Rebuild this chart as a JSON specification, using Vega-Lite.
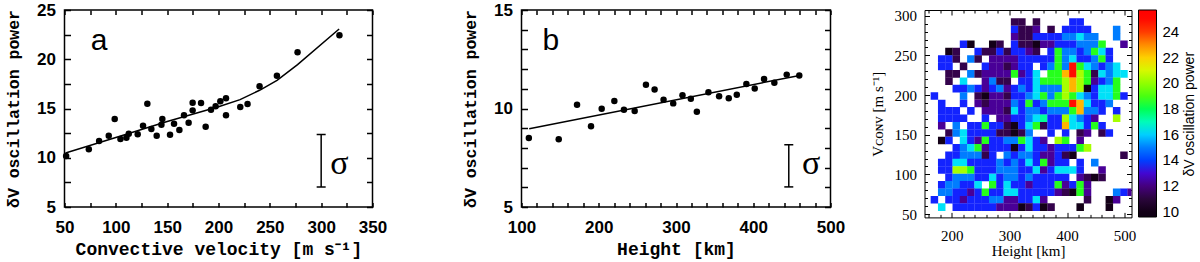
{
"$schema": "https://vega.github.io/schema/vega-lite/v6.json",
"background": "white",
"padding": {"left": 4.5, "top": -3, "right": 0, "bottom": 0},
"spacing": 10,
"resolve": {"scale": {"color": "independent"}, "legend": {"color": "independent"}},
"config": {
  "view": {"stroke": "black", "strokeWidth": 1.5},
  "axis": {"domain": false, "grid": false, "tickColor": "black", "labelColor": "black", "titleColor": "black", "labelOverlap": false, "labelFlush": false}
},
"datasets": {
"a_pts": [{"x":51.6,"y":10.18},{"x":73.7,"y":10.86},{"x":83.7,"y":11.7},{"x":93.1,"y":12.24},{"x":98.9,"y":13.93},{"x":104.5,"y":11.9},{"x":110.3,"y":12.04},{"x":112.6,"y":12.44},{"x":121.3,"y":12.38},{"x":126.5,"y":13.25},{"x":130.7,"y":15.49},{"x":134.6,"y":12.92},{"x":139.8,"y":12.24},{"x":144.4,"y":13.36},{"x":145.3,"y":13.93},{"x":152.8,"y":12.34},{"x":156.7,"y":13.46},{"x":161.9,"y":12.82},{"x":166.4,"y":14.31},{"x":170.9,"y":13.56},{"x":174.8,"y":14.81},{"x":174.8,"y":15.59},{"x":183,"y":15.56},{"x":187.5,"y":13.15},{"x":192.7,"y":14.88},{"x":197.2,"y":15.22},{"x":201.8,"y":15.73},{"x":207.3,"y":16.03},{"x":207.3,"y":14.31},{"x":221.2,"y":15.15},{"x":228.3,"y":15.46},{"x":240,"y":17.25},{"x":256.9,"y":18.33},{"x":277,"y":20.71},{"x":317.8,"y":22.43}],
"a_fit": [{"x":51,"y":10.48},{"x":100,"y":12.05},{"x":150,"y":13.68},{"x":200,"y":15.17},{"x":221,"y":15.9},{"x":240,"y":16.85},{"x":257,"y":17.86},{"x":277,"y":19.45},{"x":317.5,"y":23.07}],
"a_err": [{"x":300,"lo":7.03,"hi":12.35}],
"a_cap": [{"x":300,"y":7.03},{"x":300,"y":12.35}],
"a_lab": [{"x":83.6,"y":20.94,"t":"a"}],
"a_sig": [{"x":308.8,"y":8.35,"t":"σ"}],
"b_pts": [{"x":109.5,"y":8.5},{"x":148.2,"y":8.44},{"x":171.9,"y":10.19},{"x":190,"y":9.1},{"x":203.8,"y":9.99},{"x":220.2,"y":10.38},{"x":232.6,"y":9.94},{"x":246.5,"y":9.87},{"x":261.1,"y":11.21},{"x":272.3,"y":10.96},{"x":283.9,"y":10.45},{"x":296.4,"y":10.26},{"x":308.4,"y":10.67},{"x":319.2,"y":10.5},{"x":327,"y":9.84},{"x":342,"y":10.82},{"x":355.8,"y":10.62},{"x":368.3,"y":10.52},{"x":378.7,"y":10.7},{"x":391.1,"y":11.24},{"x":401.9,"y":11.02},{"x":414,"y":11.5},{"x":427.3,"y":11.31},{"x":443.3,"y":11.72},{"x":459.6,"y":11.68}],
"b_fit": [{"x":110,"y":8.97},{"x":460,"y":11.68}],
"b_err": [{"x":446,"lo":6.02,"hi":8.16}],
"b_cap": [{"x":446,"y":6.02},{"x":446,"y":8.16}],
"b_lab": [{"x":137.9,"y":12.98,"t":"b"}],
"b_sig": [{"x":463,"y":6.68,"t":"σ"}],
"heat": [
{"h":309,"v":292.1,"p":11.3},{"h":321.6,"v":292.1,"p":11.3},{"h":346.9,"v":292.1,"p":11.3},{"h":410.2,"v":292.1,"p":13.6},{"h":422.9,"v":292.1,"p":13.6},
{"h":309,"v":282.7,"p":13.6},{"h":321.6,"v":282.7,"p":11.3},{"h":334.3,"v":282.7,"p":11.3},{"h":346.9,"v":282.7,"p":12.3},{"h":372.3,"v":282.7,"p":11.3},{"h":397.6,"v":282.7,"p":13.6},{"h":410.2,"v":282.7,"p":13.6},{"h":422.9,"v":282.7,"p":13.6},{"h":435.6,"v":282.7,"p":13.6},{"h":486.2,"v":282.7,"p":15},
{"h":309,"v":273.4,"p":12.3},{"h":321.6,"v":273.4,"p":11.3},{"h":334.3,"v":273.4,"p":11.3},{"h":346.9,"v":273.4,"p":13.6},{"h":359.6,"v":273.4,"p":13.6},{"h":372.3,"v":273.4,"p":13.6},{"h":384.9,"v":273.4,"p":13.6},{"h":397.6,"v":273.4,"p":15},{"h":410.2,"v":273.4,"p":15},{"h":422.9,"v":273.4,"p":16.2},{"h":435.6,"v":273.4,"p":15},{"h":448.2,"v":273.4,"p":15},{"h":486.2,"v":273.4,"p":15},
{"h":220.3,"v":264.1,"p":13.6},{"h":233,"v":264.1,"p":10.1},{"h":271,"v":264.1,"p":10.1},{"h":283.6,"v":264.1,"p":11.3},{"h":309,"v":264.1,"p":13.6},{"h":321.6,"v":264.1,"p":11.3},{"h":334.3,"v":264.1,"p":11.3},{"h":346.9,"v":264.1,"p":10.1},{"h":359.6,"v":264.1,"p":12.3},{"h":372.3,"v":264.1,"p":12.3},{"h":384.9,"v":264.1,"p":13.6},{"h":397.6,"v":264.1,"p":13.6},{"h":410.2,"v":264.1,"p":13.6},{"h":422.9,"v":264.1,"p":15},{"h":435.6,"v":264.1,"p":15},{"h":448.2,"v":264.1,"p":15},{"h":460.9,"v":264.1,"p":18.5},{"h":498.9,"v":264.1,"p":12.3},
{"h":195,"v":254.7,"p":10.1},{"h":207.7,"v":254.7,"p":11.3},{"h":245.7,"v":254.7,"p":13.6},{"h":258.3,"v":254.7,"p":11.3},{"h":271,"v":254.7,"p":11.3},{"h":283.6,"v":254.7,"p":13.6},{"h":296.3,"v":254.7,"p":11.3},{"h":309,"v":254.7,"p":13.6},{"h":321.6,"v":254.7,"p":13.6},{"h":334.3,"v":254.7,"p":12.3},{"h":346.9,"v":254.7,"p":11.3},{"h":372.3,"v":254.7,"p":13.6},{"h":384.9,"v":254.7,"p":18.5},{"h":397.6,"v":254.7,"p":15},{"h":410.2,"v":254.7,"p":15},{"h":422.9,"v":254.7,"p":13.6},{"h":435.6,"v":254.7,"p":15},{"h":448.2,"v":254.7,"p":18.5},{"h":460.9,"v":254.7,"p":16.2},{"h":473.5,"v":254.7,"p":13.6},
{"h":182.4,"v":245.4,"p":13.6},{"h":195,"v":245.4,"p":13.6},{"h":207.7,"v":245.4,"p":11.3},{"h":233,"v":245.4,"p":15},{"h":245.7,"v":245.4,"p":11.3},{"h":271,"v":245.4,"p":12.3},{"h":283.6,"v":245.4,"p":12.3},{"h":296.3,"v":245.4,"p":12.3},{"h":309,"v":245.4,"p":12.3},{"h":321.6,"v":245.4,"p":13.6},{"h":334.3,"v":245.4,"p":13.6},{"h":346.9,"v":245.4,"p":13.6},{"h":359.6,"v":245.4,"p":13.6},{"h":372.3,"v":245.4,"p":13.6},{"h":384.9,"v":245.4,"p":18.5},{"h":397.6,"v":245.4,"p":15},{"h":410.2,"v":245.4,"p":16.2},{"h":422.9,"v":245.4,"p":13.6},{"h":435.6,"v":245.4,"p":13.6},{"h":448.2,"v":245.4,"p":15},{"h":460.9,"v":245.4,"p":18.5},{"h":473.5,"v":245.4,"p":13.6},
{"h":182.4,"v":236.1,"p":13.6},{"h":195,"v":236.1,"p":13.6},{"h":220.3,"v":236.1,"p":11.3},{"h":258.3,"v":236.1,"p":13.6},{"h":271,"v":236.1,"p":12.3},{"h":283.6,"v":236.1,"p":12.3},{"h":296.3,"v":236.1,"p":11.3},{"h":309,"v":236.1,"p":12.3},{"h":321.6,"v":236.1,"p":13.6},{"h":334.3,"v":236.1,"p":13.6},{"h":359.6,"v":236.1,"p":13.6},{"h":372.3,"v":236.1,"p":15},{"h":384.9,"v":236.1,"p":18.5},{"h":397.6,"v":236.1,"p":15},{"h":410.2,"v":236.1,"p":24.6},{"h":422.9,"v":236.1,"p":18.5},{"h":435.6,"v":236.1,"p":16.2},{"h":448.2,"v":236.1,"p":15},{"h":460.9,"v":236.1,"p":13.6},{"h":473.5,"v":236.1,"p":15},{"h":486.2,"v":236.1,"p":16.2},
{"h":195,"v":226.7,"p":11.3},{"h":207.7,"v":226.7,"p":11.3},{"h":233,"v":226.7,"p":15},{"h":245.7,"v":226.7,"p":11.3},{"h":258.3,"v":226.7,"p":12.3},{"h":271,"v":226.7,"p":12.3},{"h":283.6,"v":226.7,"p":12.3},{"h":296.3,"v":226.7,"p":12.3},{"h":309,"v":226.7,"p":18.5},{"h":321.6,"v":226.7,"p":12.3},{"h":334.3,"v":226.7,"p":13.6},{"h":346.9,"v":226.7,"p":16.2},{"h":372.3,"v":226.7,"p":18.5},{"h":384.9,"v":226.7,"p":18.5},{"h":397.6,"v":226.7,"p":22.4},{"h":410.2,"v":226.7,"p":24.6},{"h":422.9,"v":226.7,"p":20.3},{"h":435.6,"v":226.7,"p":18.5},{"h":448.2,"v":226.7,"p":11.3},{"h":460.9,"v":226.7,"p":16.2},{"h":473.5,"v":226.7,"p":15},{"h":486.2,"v":226.7,"p":16.2},{"h":498.9,"v":226.7,"p":16.2},
{"h":195,"v":217.4,"p":11.3},{"h":220.3,"v":217.4,"p":16.2},{"h":258.3,"v":217.4,"p":12.3},{"h":271,"v":217.4,"p":15},{"h":283.6,"v":217.4,"p":11.3},{"h":296.3,"v":217.4,"p":11.3},{"h":321.6,"v":217.4,"p":13.6},{"h":334.3,"v":217.4,"p":13.6},{"h":346.9,"v":217.4,"p":16.2},{"h":359.6,"v":217.4,"p":18.5},{"h":372.3,"v":217.4,"p":18.5},{"h":384.9,"v":217.4,"p":18.5},{"h":397.6,"v":217.4,"p":20.3},{"h":410.2,"v":217.4,"p":22.4},{"h":422.9,"v":217.4,"p":20.3},{"h":435.6,"v":217.4,"p":18.5},{"h":448.2,"v":217.4,"p":12.3},{"h":460.9,"v":217.4,"p":13.6},{"h":473.5,"v":217.4,"p":15},{"h":486.2,"v":217.4,"p":18.5},
{"h":207.7,"v":208.1,"p":13.6},{"h":220.3,"v":208.1,"p":13.6},{"h":233,"v":208.1,"p":15},{"h":245.7,"v":208.1,"p":13.6},{"h":258.3,"v":208.1,"p":12.3},{"h":271,"v":208.1,"p":13.6},{"h":283.6,"v":208.1,"p":15},{"h":296.3,"v":208.1,"p":12.3},{"h":309,"v":208.1,"p":13.6},{"h":321.6,"v":208.1,"p":15},{"h":334.3,"v":208.1,"p":13.6},{"h":346.9,"v":208.1,"p":16.2},{"h":359.6,"v":208.1,"p":15},{"h":372.3,"v":208.1,"p":15},{"h":384.9,"v":208.1,"p":15},{"h":397.6,"v":208.1,"p":20.3},{"h":410.2,"v":208.1,"p":22.4},{"h":422.9,"v":208.1,"p":20.3},{"h":435.6,"v":208.1,"p":10.1},{"h":448.2,"v":208.1,"p":13.6},{"h":460.9,"v":208.1,"p":16.2},{"h":473.5,"v":208.1,"p":16.2},{"h":486.2,"v":208.1,"p":18.5},
{"h":169.7,"v":198.8,"p":13.6},{"h":220.3,"v":198.8,"p":15},{"h":245.7,"v":198.8,"p":11.3},{"h":258.3,"v":198.8,"p":10.1},{"h":271,"v":198.8,"p":12.3},{"h":283.6,"v":198.8,"p":12.3},{"h":296.3,"v":198.8,"p":11.3},{"h":309,"v":198.8,"p":13.6},{"h":321.6,"v":198.8,"p":13.6},{"h":334.3,"v":198.8,"p":15},{"h":346.9,"v":198.8,"p":16.2},{"h":359.6,"v":198.8,"p":18.5},{"h":372.3,"v":198.8,"p":15},{"h":384.9,"v":198.8,"p":18.5},{"h":397.6,"v":198.8,"p":20.3},{"h":410.2,"v":198.8,"p":18.5},{"h":422.9,"v":198.8,"p":16.2},{"h":435.6,"v":198.8,"p":15},{"h":448.2,"v":198.8,"p":13.6},{"h":460.9,"v":198.8,"p":16.2},{"h":473.5,"v":198.8,"p":16.2},{"h":486.2,"v":198.8,"p":18.5},{"h":498.9,"v":198.8,"p":13.6},
{"h":182.4,"v":189.4,"p":13.6},{"h":220.3,"v":189.4,"p":13.6},{"h":245.7,"v":189.4,"p":12.3},{"h":258.3,"v":189.4,"p":11.3},{"h":271,"v":189.4,"p":12.3},{"h":283.6,"v":189.4,"p":12.3},{"h":296.3,"v":189.4,"p":12.3},{"h":309,"v":189.4,"p":15},{"h":321.6,"v":189.4,"p":13.6},{"h":334.3,"v":189.4,"p":18.5},{"h":346.9,"v":189.4,"p":13.6},{"h":359.6,"v":189.4,"p":15},{"h":372.3,"v":189.4,"p":18.5},{"h":384.9,"v":189.4,"p":18.5},{"h":397.6,"v":189.4,"p":18.5},{"h":410.2,"v":189.4,"p":24.6},{"h":422.9,"v":189.4,"p":22.4},{"h":435.6,"v":189.4,"p":16.2},{"h":448.2,"v":189.4,"p":13.6},{"h":460.9,"v":189.4,"p":13.6},{"h":473.5,"v":189.4,"p":15},
{"h":182.4,"v":180.1,"p":13.6},{"h":195,"v":180.1,"p":13.6},{"h":207.7,"v":180.1,"p":13.6},{"h":233,"v":180.1,"p":13.6},{"h":258.3,"v":180.1,"p":12.3},{"h":271,"v":180.1,"p":12.3},{"h":283.6,"v":180.1,"p":12.3},{"h":296.3,"v":180.1,"p":11.3},{"h":309,"v":180.1,"p":16.2},{"h":321.6,"v":180.1,"p":13.6},{"h":334.3,"v":180.1,"p":15},{"h":346.9,"v":180.1,"p":15},{"h":359.6,"v":180.1,"p":13.6},{"h":372.3,"v":180.1,"p":15},{"h":384.9,"v":180.1,"p":15},{"h":397.6,"v":180.1,"p":15},{"h":410.2,"v":180.1,"p":18.5},{"h":422.9,"v":180.1,"p":22.4},{"h":435.6,"v":180.1,"p":15},{"h":448.2,"v":180.1,"p":15},{"h":460.9,"v":180.1,"p":13.6},{"h":486.2,"v":180.1,"p":13.6},
{"h":182.4,"v":170.8,"p":13.6},{"h":195,"v":170.8,"p":13.6},{"h":207.7,"v":170.8,"p":13.6},{"h":220.3,"v":170.8,"p":13.6},{"h":258.3,"v":170.8,"p":13.6},{"h":283.6,"v":170.8,"p":12.3},{"h":296.3,"v":170.8,"p":12.3},{"h":309,"v":170.8,"p":13.6},{"h":321.6,"v":170.8,"p":13.6},{"h":334.3,"v":170.8,"p":15},{"h":346.9,"v":170.8,"p":16.2},{"h":359.6,"v":170.8,"p":17.3},{"h":372.3,"v":170.8,"p":13.6},{"h":384.9,"v":170.8,"p":13.6},{"h":397.6,"v":170.8,"p":20.3},{"h":410.2,"v":170.8,"p":16.2},{"h":422.9,"v":170.8,"p":15},{"h":435.6,"v":170.8,"p":13.6},{"h":448.2,"v":170.8,"p":12.3},{"h":486.2,"v":170.8,"p":20.3},
{"h":182.4,"v":161.4,"p":12.3},{"h":207.7,"v":161.4,"p":15},{"h":233,"v":161.4,"p":13.6},{"h":245.7,"v":161.4,"p":13.6},{"h":258.3,"v":161.4,"p":18.5},{"h":271,"v":161.4,"p":13.6},{"h":283.6,"v":161.4,"p":13.6},{"h":296.3,"v":161.4,"p":11.3},{"h":309,"v":161.4,"p":10.1},{"h":321.6,"v":161.4,"p":13.6},{"h":334.3,"v":161.4,"p":16.2},{"h":346.9,"v":161.4,"p":18.5},{"h":359.6,"v":161.4,"p":11.3},{"h":372.3,"v":161.4,"p":13.6},{"h":384.9,"v":161.4,"p":13.6},{"h":397.6,"v":161.4,"p":22.4},{"h":410.2,"v":161.4,"p":16.2},{"h":422.9,"v":161.4,"p":16.2},{"h":435.6,"v":161.4,"p":13.6},{"h":448.2,"v":161.4,"p":18.5},{"h":460.9,"v":161.4,"p":13.6},
{"h":195,"v":152.1,"p":11.3},{"h":207.7,"v":152.1,"p":15},{"h":220.3,"v":152.1,"p":16.2},{"h":233,"v":152.1,"p":13.6},{"h":245.7,"v":152.1,"p":13.6},{"h":258.3,"v":152.1,"p":13.6},{"h":271,"v":152.1,"p":13.6},{"h":283.6,"v":152.1,"p":11.3},{"h":296.3,"v":152.1,"p":11.3},{"h":309,"v":152.1,"p":10.1},{"h":321.6,"v":152.1,"p":11.3},{"h":334.3,"v":152.1,"p":15},{"h":372.3,"v":152.1,"p":13.6},{"h":397.6,"v":152.1,"p":13.6},{"h":422.9,"v":152.1,"p":11.3},{"h":435.6,"v":152.1,"p":12.3},{"h":460.9,"v":152.1,"p":11.3},{"h":473.5,"v":152.1,"p":13.6},
{"h":182.4,"v":142.8,"p":10.1},{"h":195,"v":142.8,"p":13.6},{"h":220.3,"v":142.8,"p":16.2},{"h":233,"v":142.8,"p":13.6},{"h":245.7,"v":142.8,"p":12.3},{"h":258.3,"v":142.8,"p":18.5},{"h":271,"v":142.8,"p":13.6},{"h":283.6,"v":142.8,"p":13.6},{"h":296.3,"v":142.8,"p":15},{"h":309,"v":142.8,"p":15},{"h":321.6,"v":142.8,"p":18.5},{"h":334.3,"v":142.8,"p":16.2},{"h":346.9,"v":142.8,"p":13.6},{"h":359.6,"v":142.8,"p":12.3},{"h":384.9,"v":142.8,"p":20.3},{"h":397.6,"v":142.8,"p":18.5},{"h":422.9,"v":142.8,"p":12.3},
{"h":207.7,"v":133.4,"p":13.6},{"h":220.3,"v":133.4,"p":15},{"h":233,"v":133.4,"p":16.2},{"h":245.7,"v":133.4,"p":18.5},{"h":258.3,"v":133.4,"p":12.3},{"h":271,"v":133.4,"p":13.6},{"h":283.6,"v":133.4,"p":13.6},{"h":296.3,"v":133.4,"p":13.6},{"h":309,"v":133.4,"p":10.1},{"h":321.6,"v":133.4,"p":13.6},{"h":334.3,"v":133.4,"p":16.2},{"h":346.9,"v":133.4,"p":13.6},{"h":359.6,"v":133.4,"p":13.6},{"h":372.3,"v":133.4,"p":12.3},{"h":384.9,"v":133.4,"p":13.6},{"h":397.6,"v":133.4,"p":13.6},{"h":410.2,"v":133.4,"p":13.6},{"h":422.9,"v":133.4,"p":18.5},{"h":435.6,"v":133.4,"p":20.3},
{"h":195,"v":124.1,"p":13.6},{"h":207.7,"v":124.1,"p":13.6},{"h":220.3,"v":124.1,"p":15},{"h":233,"v":124.1,"p":15},{"h":245.7,"v":124.1,"p":15},{"h":258.3,"v":124.1,"p":11.3},{"h":271,"v":124.1,"p":13.6},{"h":296.3,"v":124.1,"p":15},{"h":309,"v":124.1,"p":13.6},{"h":321.6,"v":124.1,"p":15},{"h":334.3,"v":124.1,"p":15},{"h":346.9,"v":124.1,"p":13.6},{"h":359.6,"v":124.1,"p":12.3},{"h":372.3,"v":124.1,"p":12.3},{"h":384.9,"v":124.1,"p":13.6},{"h":397.6,"v":124.1,"p":11.3},{"h":410.2,"v":124.1,"p":10.1},{"h":498.9,"v":124.1,"p":11.3},
{"h":182.4,"v":114.8,"p":13.6},{"h":195,"v":114.8,"p":13.6},{"h":207.7,"v":114.8,"p":16.2},{"h":220.3,"v":114.8,"p":16.2},{"h":233,"v":114.8,"p":13.6},{"h":245.7,"v":114.8,"p":13.6},{"h":258.3,"v":114.8,"p":13.6},{"h":271,"v":114.8,"p":13.6},{"h":283.6,"v":114.8,"p":15},{"h":296.3,"v":114.8,"p":13.6},{"h":309,"v":114.8,"p":15},{"h":321.6,"v":114.8,"p":13.6},{"h":334.3,"v":114.8,"p":16.2},{"h":346.9,"v":114.8,"p":13.6},{"h":359.6,"v":114.8,"p":18.5},{"h":372.3,"v":114.8,"p":12.3},{"h":384.9,"v":114.8,"p":13.6},{"h":397.6,"v":114.8,"p":13.6},{"h":422.9,"v":114.8,"p":13.6},{"h":448.2,"v":114.8,"p":15},
{"h":182.4,"v":105.5,"p":13.6},{"h":195,"v":105.5,"p":13.6},{"h":207.7,"v":105.5,"p":20.3},{"h":220.3,"v":105.5,"p":20.3},{"h":233,"v":105.5,"p":18.5},{"h":245.7,"v":105.5,"p":13.6},{"h":258.3,"v":105.5,"p":13.6},{"h":271,"v":105.5,"p":13.6},{"h":283.6,"v":105.5,"p":15},{"h":296.3,"v":105.5,"p":15},{"h":309,"v":105.5,"p":15},{"h":321.6,"v":105.5,"p":13.6},{"h":334.3,"v":105.5,"p":13.6},{"h":346.9,"v":105.5,"p":16.2},{"h":359.6,"v":105.5,"p":12.3},{"h":372.3,"v":105.5,"p":13.6},{"h":384.9,"v":105.5,"p":16.2},{"h":397.6,"v":105.5,"p":16.2},{"h":410.2,"v":105.5,"p":16.2},{"h":422.9,"v":105.5,"p":13.6},{"h":460.9,"v":105.5,"p":12.3},
{"h":195,"v":96.1,"p":13.6},{"h":207.7,"v":96.1,"p":15},{"h":220.3,"v":96.1,"p":15},{"h":233,"v":96.1,"p":15},{"h":245.7,"v":96.1,"p":13.6},{"h":258.3,"v":96.1,"p":13.6},{"h":271,"v":96.1,"p":16.2},{"h":283.6,"v":96.1,"p":13.6},{"h":296.3,"v":96.1,"p":15},{"h":309,"v":96.1,"p":15},{"h":321.6,"v":96.1,"p":13.6},{"h":334.3,"v":96.1,"p":15},{"h":346.9,"v":96.1,"p":13.6},{"h":359.6,"v":96.1,"p":13.6},{"h":372.3,"v":96.1,"p":13.6},{"h":384.9,"v":96.1,"p":13.6},{"h":397.6,"v":96.1,"p":13.6},{"h":422.9,"v":96.1,"p":12.3},{"h":435.6,"v":96.1,"p":11.3},{"h":448.2,"v":96.1,"p":10.1},{"h":460.9,"v":96.1,"p":11.3},
{"h":182.4,"v":86.8,"p":13.6},{"h":195,"v":86.8,"p":15},{"h":207.7,"v":86.8,"p":15},{"h":220.3,"v":86.8,"p":13.6},{"h":233,"v":86.8,"p":13.6},{"h":245.7,"v":86.8,"p":16.2},{"h":271,"v":86.8,"p":18.5},{"h":283.6,"v":86.8,"p":13.6},{"h":296.3,"v":86.8,"p":16.2},{"h":309,"v":86.8,"p":13.6},{"h":321.6,"v":86.8,"p":13.6},{"h":334.3,"v":86.8,"p":12.3},{"h":346.9,"v":86.8,"p":13.6},{"h":359.6,"v":86.8,"p":13.6},{"h":372.3,"v":86.8,"p":13.6},{"h":384.9,"v":86.8,"p":18.5},{"h":397.6,"v":86.8,"p":12.3},{"h":410.2,"v":86.8,"p":13.6},{"h":422.9,"v":86.8,"p":18.5},{"h":435.6,"v":86.8,"p":12.3},
{"h":182.4,"v":77.5,"p":15},{"h":195,"v":77.5,"p":15},{"h":207.7,"v":77.5,"p":13.6},{"h":220.3,"v":77.5,"p":13.6},{"h":233,"v":77.5,"p":12.3},{"h":245.7,"v":77.5,"p":13.6},{"h":258.3,"v":77.5,"p":18.5},{"h":271,"v":77.5,"p":13.6},{"h":283.6,"v":77.5,"p":13.6},{"h":296.3,"v":77.5,"p":16.2},{"h":309,"v":77.5,"p":16.2},{"h":321.6,"v":77.5,"p":13.6},{"h":334.3,"v":77.5,"p":13.6},{"h":346.9,"v":77.5,"p":13.6},{"h":359.6,"v":77.5,"p":13.6},{"h":372.3,"v":77.5,"p":13.6},{"h":384.9,"v":77.5,"p":12.3},{"h":397.6,"v":77.5,"p":11.3},{"h":410.2,"v":77.5,"p":10.1},{"h":422.9,"v":77.5,"p":18.5},{"h":435.6,"v":77.5,"p":12.3},{"h":486.2,"v":77.5,"p":15},{"h":498.9,"v":77.5,"p":13.6},{"h":511.5,"v":77.5,"p":12.3},
{"h":169.7,"v":68.1,"p":13.6},{"h":195,"v":68.1,"p":13.6},{"h":207.7,"v":68.1,"p":13.6},{"h":220.3,"v":68.1,"p":12.3},{"h":233,"v":68.1,"p":13.6},{"h":245.7,"v":68.1,"p":13.6},{"h":258.3,"v":68.1,"p":13.6},{"h":271,"v":68.1,"p":15},{"h":283.6,"v":68.1,"p":15},{"h":296.3,"v":68.1,"p":12.3},{"h":309,"v":68.1,"p":12.3},{"h":321.6,"v":68.1,"p":13.6},{"h":334.3,"v":68.1,"p":13.6},{"h":346.9,"v":68.1,"p":16.2},{"h":359.6,"v":68.1,"p":12.3},{"h":435.6,"v":68.1,"p":11.3},{"h":473.5,"v":68.1,"p":10.1},{"h":486.2,"v":68.1,"p":12.3},
{"h":182.4,"v":58.8,"p":16.2},{"h":207.7,"v":58.8,"p":13.6},{"h":220.3,"v":58.8,"p":13.6},{"h":233,"v":58.8,"p":13.6},{"h":245.7,"v":58.8,"p":13.6},{"h":258.3,"v":58.8,"p":13.6},{"h":271,"v":58.8,"p":13.6},{"h":283.6,"v":58.8,"p":12.3},{"h":296.3,"v":58.8,"p":12.3},{"h":309,"v":58.8,"p":12.3},{"h":321.6,"v":58.8,"p":10.1},{"h":334.3,"v":58.8,"p":11.3},{"h":346.9,"v":58.8,"p":13.6},{"h":359.6,"v":58.8,"p":10.1},{"h":372.3,"v":58.8,"p":11.3},{"h":422.9,"v":58.8,"p":10.1},{"h":473.5,"v":58.8,"p":10.1}
]
},
"hconcat": [
{
 "width": 308, "height": 197,
 "resolve": {"axis": {"x": "independent", "y": "independent"}},
 "layer": [
  {"data": {"name": "a_pts"}, "mark": {"type": "circle", "size": 42, "color": "black", "opacity": 1},
   "encoding": {
    "x": {"field": "x", "type": "quantitative", "scale": {"domain": [50, 350]}, "axis": {"orient": "bottom", "values": [50,100,150,200,250,300,350], "ticks": false, "labelFont": "Liberation Sans", "labelFontSize": 17, "labelFontWeight": "bold", "labelPadding": 12, "title": "Convective velocity [m s⁻¹]", "titleFont": "Liberation Mono", "titleFontSize": 18, "titleFontWeight": "bold", "titlePadding": 6, "minExtent": 27, "maxExtent": 27}},
    "y": {"field": "y", "type": "quantitative", "scale": {"domain": [5, 25]}, "axis": {"orient": "left", "values": [5,10,15,20,25], "ticks": false, "labelFont": "Liberation Sans", "labelFontSize": 17, "labelFontWeight": "bold", "labelPadding": 9, "title": "δV oscillation power", "titleFont": "Liberation Mono", "titleFontSize": 16.5, "titleFontWeight": "bold", "titlePadding": 3, "minExtent": 40, "maxExtent": 40}}
   }},
  {"data": {"name": "a_fit"}, "mark": {"type": "line", "color": "black", "strokeWidth": 1.5},
   "encoding": {
    "x": {"field": "x", "type": "quantitative", "scale": {"domain": [50, 350]}, "axis": {"orient": "bottom", "values": [50,100,150,200,250,300,350], "labels": false, "tickSize": -4.5, "tickWidth": 1.5, "title": null, "minExtent": 0, "maxExtent": 0}},
    "y": {"field": "y", "type": "quantitative", "scale": {"domain": [5, 25]}, "axis": {"orient": "left", "values": [5,10,15,20,25], "labels": false, "tickSize": -6, "tickWidth": 1.5, "title": null, "minExtent": 0, "maxExtent": 0}}
   }},
  {"data": {"name": "a_err"}, "mark": {"type": "rule", "color": "black", "strokeWidth": 1.5},
   "encoding": {
    "x": {"field": "x", "type": "quantitative", "scale": {"domain": [50, 350]}, "axis": {"orient": "bottom", "values": [75,125,175,225,275,325], "labels": false, "tickSize": -4.5, "tickWidth": 1.5, "title": null, "minExtent": 0, "maxExtent": 0}},
    "y": {"field": "lo", "type": "quantitative", "scale": {"domain": [5, 25]}, "axis": {"orient": "left", "values": [7.5,12.5,17.5,22.5], "labels": false, "tickSize": -6, "tickWidth": 1.5, "title": null, "minExtent": 0, "maxExtent": 0}},
    "y2": {"field": "hi"}
   }},
  {"data": {"name": "a_cap"}, "mark": {"type": "tick", "orient": "horizontal", "size": 9, "thickness": 1.5, "color": "black", "opacity": 1},
   "encoding": {
    "x": {"field": "x", "type": "quantitative", "scale": {"domain": [50, 350]}, "axis": {"orient": "top", "values": [50,100,150,200,250,300,350], "labels": false, "tickSize": -4.5, "tickWidth": 1.5, "title": null, "minExtent": 10, "maxExtent": 10}},
    "y": {"field": "y", "type": "quantitative", "scale": {"domain": [5, 25]}, "axis": {"orient": "right", "values": [5,10,15,20,25], "labels": false, "tickSize": -6, "tickWidth": 1.5, "title": null, "minExtent": 77.5, "maxExtent": 77.5}}
   }},
  {"data": {"name": "a_lab"}, "mark": {"type": "text", "font": "Liberation Sans", "fontSize": 30, "align": "center", "baseline": "alphabetic", "color": "black"},
   "encoding": {
    "x": {"field": "x", "type": "quantitative", "scale": {"domain": [50, 350]}, "axis": {"orient": "top", "values": [75,125,175,225,275,325], "labels": false, "tickSize": -4.5, "tickWidth": 1.5, "title": null, "minExtent": 0, "maxExtent": 0}},
    "y": {"field": "y", "type": "quantitative", "scale": {"domain": [5, 25]}, "axis": {"orient": "right", "values": [7.5,12.5,17.5,22.5], "labels": false, "tickSize": -6, "tickWidth": 1.5, "title": null, "minExtent": 0, "maxExtent": 0}},
    "text": {"field": "t"}
   }},
  {"data": {"name": "a_sig"}, "mark": {"type": "text", "font": "Liberation Serif", "fontSize": 34, "align": "left", "baseline": "alphabetic", "color": "black"},
   "encoding": {
    "x": {"field": "x", "type": "quantitative", "scale": {"domain": [50, 350]}, "axis": null},
    "y": {"field": "y", "type": "quantitative", "scale": {"domain": [5, 25]}, "axis": null},
    "text": {"field": "t"}
   }}
 ]
},
{
 "width": 309, "height": 197,
 "resolve": {"axis": {"x": "independent", "y": "independent"}},
 "layer": [
  {"data": {"name": "b_pts"}, "mark": {"type": "circle", "size": 42, "color": "black", "opacity": 1},
   "encoding": {
    "x": {"field": "x", "type": "quantitative", "scale": {"domain": [100, 500]}, "axis": {"orient": "bottom", "values": [100,200,300,400,500], "ticks": false, "labelFont": "Liberation Sans", "labelFontSize": 17, "labelFontWeight": "bold", "labelPadding": 12, "title": "Height [km]", "titleFont": "Liberation Mono", "titleFontSize": 18, "titleFontWeight": "bold", "titlePadding": 6, "minExtent": 27, "maxExtent": 27}},
    "y": {"field": "y", "type": "quantitative", "scale": {"domain": [5, 15]}, "axis": {"orient": "left", "values": [5,10,15], "ticks": false, "labelFont": "Liberation Sans", "labelFontSize": 17, "labelFontWeight": "bold", "labelPadding": 9, "title": "δV oscillation power", "titleFont": "Liberation Mono", "titleFontSize": 16.5, "titleFontWeight": "bold", "titlePadding": 3, "minExtent": 40, "maxExtent": 40}}
   }},
  {"data": {"name": "b_fit"}, "mark": {"type": "line", "color": "black", "strokeWidth": 1.5},
   "encoding": {
    "x": {"field": "x", "type": "quantitative", "scale": {"domain": [100, 500]}, "axis": {"orient": "bottom", "values": [100,200,300,400,500], "labels": false, "tickSize": -4.5, "tickWidth": 1.5, "title": null, "minExtent": 0, "maxExtent": 0}},
    "y": {"field": "y", "type": "quantitative", "scale": {"domain": [5, 15]}, "axis": {"orient": "left", "values": [5,10,15], "labels": false, "tickSize": -6, "tickWidth": 1.5, "title": null, "minExtent": 0, "maxExtent": 0}}
   }},
  {"data": {"name": "b_err"}, "mark": {"type": "rule", "color": "black", "strokeWidth": 1.5},
   "encoding": {
    "x": {"field": "x", "type": "quantitative", "scale": {"domain": [100, 500]}, "axis": {"orient": "bottom", "values": [120,140,160,180,220,240,260,280,320,340,360,380,420,440,460,480], "labels": false, "tickSize": -4.5, "tickWidth": 1.5, "title": null, "minExtent": 0, "maxExtent": 0}},
    "y": {"field": "lo", "type": "quantitative", "scale": {"domain": [5, 15]}, "axis": {"orient": "left", "values": [6,7,8,9,11,12,13,14], "labels": false, "tickSize": -6, "tickWidth": 1.5, "title": null, "minExtent": 0, "maxExtent": 0}},
    "y2": {"field": "hi"}
   }},
  {"data": {"name": "b_cap"}, "mark": {"type": "tick", "orient": "horizontal", "size": 9, "thickness": 1.5, "color": "black", "opacity": 1},
   "encoding": {
    "x": {"field": "x", "type": "quantitative", "scale": {"domain": [100, 500]}, "axis": {"orient": "top", "values": [100,200,300,400,500], "labels": false, "tickSize": -4.5, "tickWidth": 1.5, "title": null, "minExtent": 10, "maxExtent": 10}},
    "y": {"field": "y", "type": "quantitative", "scale": {"domain": [5, 15]}, "axis": {"orient": "right", "values": [5,10,15], "labels": false, "tickSize": -6, "tickWidth": 1.5, "title": null, "minExtent": 27.5, "maxExtent": 27.5}}
   }},
  {"data": {"name": "b_lab"}, "mark": {"type": "text", "font": "Liberation Sans", "fontSize": 30, "align": "center", "baseline": "alphabetic", "color": "black"},
   "encoding": {
    "x": {"field": "x", "type": "quantitative", "scale": {"domain": [100, 500]}, "axis": {"orient": "top", "values": [120,140,160,180,220,240,260,280,320,340,360,380,420,440,460,480], "labels": false, "tickSize": -4.5, "tickWidth": 1.5, "title": null, "minExtent": 0, "maxExtent": 0}},
    "y": {"field": "y", "type": "quantitative", "scale": {"domain": [5, 15]}, "axis": {"orient": "right", "values": [6,7,8,9,11,12,13,14], "labels": false, "tickSize": -6, "tickWidth": 1.5, "title": null, "minExtent": 0, "maxExtent": 0}},
    "text": {"field": "t"}
   }},
  {"data": {"name": "b_sig"}, "mark": {"type": "text", "font": "Liberation Serif", "fontSize": 34, "align": "left", "baseline": "alphabetic", "color": "black"},
   "encoding": {
    "x": {"field": "x", "type": "quantitative", "scale": {"domain": [100, 500]}, "axis": null},
    "y": {"field": "y", "type": "quantitative", "scale": {"domain": [5, 15]}, "axis": null},
    "text": {"field": "t"}
   }}
 ]
},
{
 "width": 207, "height": 207.4,
 "view": {"stroke": "black", "strokeWidth": 1},
 "resolve": {"axis": {"x": "independent", "y": "independent"}},
 "layer": [
  {"data": {"name": "heat"}, "mark": {"type": "rect", "width": 7.5, "height": 7.6, "strokeWidth": 0, "clip": true},
   "encoding": {
    "x": {"field": "h", "type": "quantitative", "scale": {"domain": [152.5, 512]}, "axis": {"orient": "bottom", "values": [200,300,400,500], "ticks": false, "labelFont": "Liberation Serif", "labelFontSize": 15, "labelPadding": 11, "title": "Height [km]", "titleFont": "Liberation Serif", "titleFontSize": 15, "titleFontWeight": "normal", "titlePadding": 2, "minExtent": 24, "maxExtent": 24}},
    "y": {"field": "v", "type": "quantitative", "scale": {"domain": [45.8, 307.2]}, "axis": {"orient": "left", "values": [50,100,150,200,250,300], "ticks": false, "labelFont": "Liberation Serif", "labelFontSize": 15, "labelPadding": 8, "title": "Vᴄᴏɴᴠ [m s⁻¹]", "titleFont": "Liberation Serif", "titleFontSize": 15, "titleFontWeight": "normal", "titlePadding": 8.5, "minExtent": 31, "maxExtent": 31}},
    "color": {"field": "p", "type": "quantitative",
      "scale": {"type": "linear", "domain": [9.6,10.3,11.5,12.5,13.5,14.5,15.5,16.3,17.2,18.3,19.5,20.5,21.5,22.5,23.5,24.3,25.7],
                "range": ["#000000","#140018","#3a0058","#4a00a8","#1a18ff","#0058ff","#009cff","#00eaf4","#00ffa0","#00ff20","#60ff00","#b4ff00","#f4f000","#ffb000","#ff6000","#ff1000","#ff0000"]},
      "legend": {"orient": "none", "legendX": 214, "legendY": 0, "direction": "vertical", "title": null, "gradientLength": 207, "gradientThickness": 18, "gradientStrokeColor": "black", "gradientStrokeWidth": 1, "values": [10,12,14,16,18,20,22,24], "labelFont": "Liberation Sans", "labelFontSize": 15, "labelColor": "black", "labelOffset": 6, "labelOverlap": false, "padding": 0}}
   }},
  {"data": {"name": "heat"}, "transform": [{"filter": "datum.h > 505"}], "mark": {"type": "point", "opacity": 0},
   "encoding": {
    "x": {"field": "h", "type": "quantitative", "scale": {"domain": [152.5, 512]}, "axis": {"orient": "bottom", "values": [200,300,400,500], "labels": false, "tickSize": -5, "tickWidth": 1, "title": null, "minExtent": 0, "maxExtent": 0}},
    "y": {"field": "v", "type": "quantitative", "scale": {"domain": [45.8, 307.2]}, "axis": {"orient": "left", "values": [50,100,150,200,250,300], "labels": false, "tickSize": -5, "tickWidth": 1, "title": null, "minExtent": 0, "maxExtent": 0}}
   }},
  {"data": {"name": "heat"}, "transform": [{"filter": "datum.h > 505"}], "mark": {"type": "point", "opacity": 0},
   "encoding": {
    "x": {"field": "h", "type": "quantitative", "scale": {"domain": [152.5, 512]}, "axis": {"orient": "bottom", "values": [160,180,220,240,260,280,320,340,360,380,420,440,460,480], "labels": false, "tickSize": -3, "tickWidth": 1, "title": null, "minExtent": 0, "maxExtent": 0}},
    "y": {"field": "v", "type": "quantitative", "scale": {"domain": [45.8, 307.2]}, "axis": {"orient": "left", "values": [60,70,80,90,110,120,130,140,160,170,180,190,210,220,230,240,260,270,280,290], "labels": false, "tickSize": -3, "tickWidth": 1, "title": null, "minExtent": 0, "maxExtent": 0}}
   }},
  {"data": {"name": "heat"}, "transform": [{"filter": "datum.h > 505"}], "mark": {"type": "point", "opacity": 0},
   "encoding": {
    "x": {"field": "h", "type": "quantitative", "scale": {"domain": [152.5, 512]}, "axis": {"orient": "top", "values": [200,300,400,500], "labels": false, "tickSize": -5, "tickWidth": 1, "title": null, "minExtent": 12.3, "maxExtent": 12.3}},
    "y": {"field": "v", "type": "quantitative", "scale": {"domain": [45.8, 307.2]}, "axis": {"orient": "right", "values": [50,100,150,200,250,300], "labels": false, "tickSize": -5, "tickWidth": 1, "title": "δV oscillation power", "titleFont": "Liberation Sans", "titleFontSize": 14, "titleFontWeight": "normal", "titleAngle": 270, "titleBaseline": "top", "titlePadding": 46, "minExtent": 5, "maxExtent": 5}}
   }},
  {"data": {"name": "heat"}, "transform": [{"filter": "datum.h > 505"}], "mark": {"type": "point", "opacity": 0},
   "encoding": {
    "x": {"field": "h", "type": "quantitative", "scale": {"domain": [152.5, 512]}, "axis": {"orient": "top", "values": [160,180,220,240,260,280,320,340,360,380,420,440,460,480], "labels": false, "tickSize": -3, "tickWidth": 1, "title": null, "minExtent": 0, "maxExtent": 0}},
    "y": {"field": "v", "type": "quantitative", "scale": {"domain": [45.8, 307.2]}, "axis": {"orient": "right", "values": [60,70,80,90,110,120,130,140,160,170,180,190,210,220,230,240,260,270,280,290], "labels": false, "tickSize": -3, "tickWidth": 1, "title": null, "minExtent": 0, "maxExtent": 0}}
   }}
 ]
}
]
}
